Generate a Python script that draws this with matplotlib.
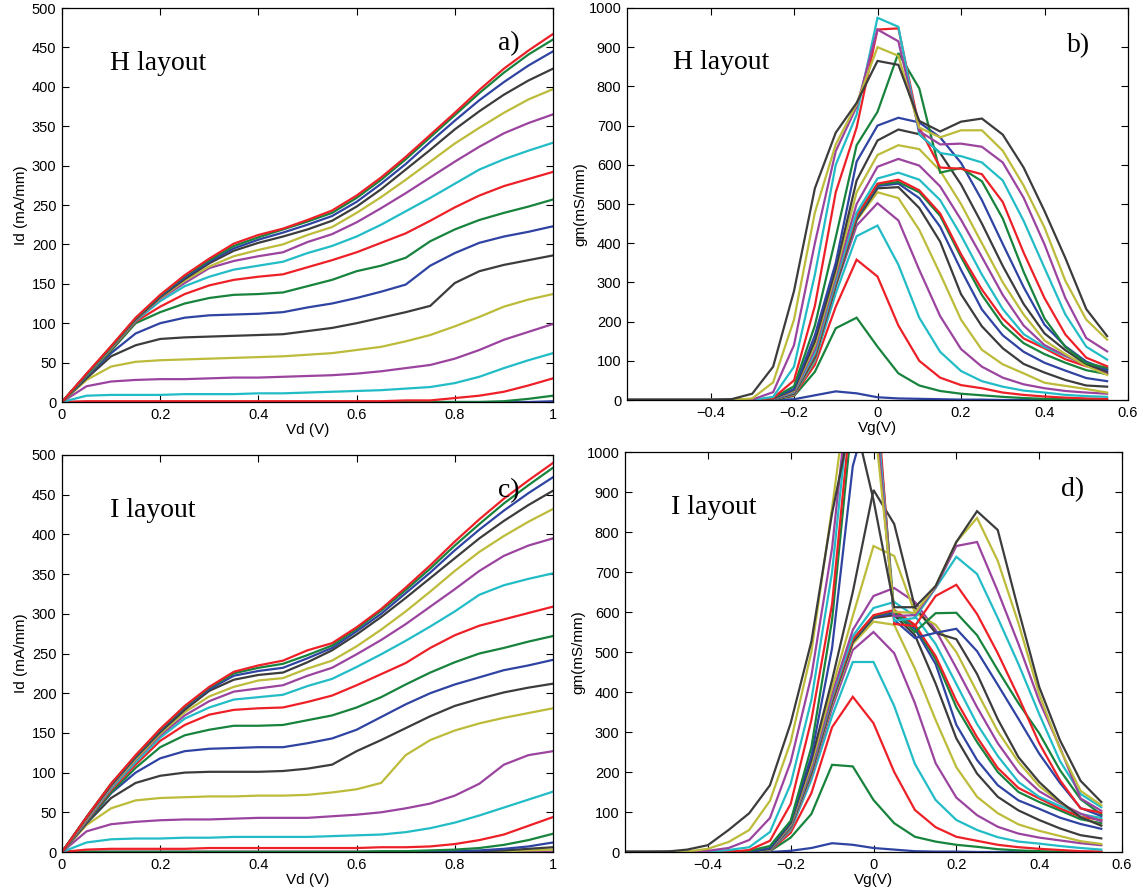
import numpy as np
import matplotlib
matplotlib.use("Agg")
import matplotlib.pyplot as plt

# Sweep axes
vd = np.round(np.arange(0.0, 1.0001, 0.05), 2)      # drain voltage (V), 21 points
vg = np.round(np.arange(-0.6, 0.5501, 0.05), 2)     # gate voltage (V), 24 points

# MATLAB-like colour cycle
line_colors = ["#2F43A2", "#17833C", "#EE2027", "#22BCC6", "#9B449F", "#BDBB3A", "#3C3C3C"]

# a) H layout, Id (mA/mm) vs Vd, one row per gate step
id_h = [
    [0, 0, 0, 0, 0, 0, 0, 0, 0, 0, 0, 0, 0, 0, 0, 0, 0, 0, 0, 0, 1],
    [0, 0, 0, 0, 0, 0, 0, 0, 0, 0, 0, 0, 0, 0, 0, 0, 0, 0, 1, 4, 8],
    [0, 1, 1, 1, 1, 1, 1, 1, 1, 1, 1, 1, 1, 1, 2, 2, 5, 8, 13, 21, 30],
    [0, 8, 9, 9, 9, 10, 10, 10, 11, 11, 12, 13, 14, 15, 17, 19, 24, 32, 43, 53, 62],
    [0, 20, 26, 28, 29, 29, 30, 31, 31, 32, 33, 34, 36, 39, 43, 47, 55, 66, 79, 89, 99],
    [0, 28, 45, 51, 53, 54, 55, 56, 57, 58, 60, 62, 66, 70, 77, 85, 96, 108, 121, 130, 137],
    [0, 30, 58, 72, 80, 82, 83, 84, 85, 86, 90, 94, 100, 107, 114, 122, 151, 166, 174, 180, 186],
    [0, 32, 62, 87, 100, 107, 110, 111, 112, 114, 120, 125, 132, 140, 149, 173, 189, 202, 210, 216, 223],
    [0, 33, 65, 100, 114, 125, 132, 136, 137, 139, 147, 155, 166, 173, 183, 204, 219, 231, 240, 248, 257],
    [0, 34, 67, 102, 121, 137, 148, 155, 159, 162, 171, 180, 190, 202, 214, 230, 247, 262, 274, 283, 292],
    [0, 34, 68, 103, 128, 147, 159, 168, 173, 178, 189, 198, 210, 225, 242, 259, 277, 295, 308, 319, 329],
    [0, 35, 69, 104, 131, 151, 170, 179, 185, 190, 203, 213, 228, 246, 265, 285, 305, 324, 341, 354, 365],
    [0, 35, 69, 105, 132, 154, 172, 185, 193, 200, 212, 222, 240, 260, 282, 305, 328, 348, 367, 384, 397],
    [0, 35, 70, 105, 133, 156, 176, 192, 202, 210, 219, 230, 248, 270, 295, 320, 346, 369, 390, 408, 423],
    [0, 35, 70, 106, 134, 158, 178, 195, 206, 215, 225, 236, 254, 277, 302, 330, 357, 383, 406, 427, 445],
    [0, 35, 70, 106, 135, 160, 180, 198, 209, 219, 229, 240, 259, 282, 308, 336, 364, 392, 418, 441, 460],
    [0, 36, 71, 107, 136, 161, 182, 201, 212, 220, 231, 243, 262, 285, 311, 339, 367, 396, 423, 446, 467],
]

# c) I layout, Id (mA/mm) vs Vd
id_i = [
    [0] * 21,
    [0] * 21,
    [0] * 21,
    [0] * 21,
    [0] * 21,
    [0, 0, 0, 0, 0, 0, 0, 0, 0, 0, 0, 0, 0, 0, 0, 0, 0, 0, 1, 2, 3],
    [0, 0, 0, 0, 0, 0, 0, 0, 0, 0, 0, 0, 0, 0, 0, 0, 0, 1, 2, 4, 6],
    [0, 0, 0, 0, 0, 0, 0, 0, 0, 0, 0, 0, 0, 0, 0, 0, 1, 2, 4, 7, 12],
    [0, 0, 0, 0, 0, 0, 0, 0, 0, 0, 0, 0, 0, 1, 1, 2, 3, 5, 9, 15, 23],
    [0, 3, 4, 4, 4, 4, 5, 5, 5, 5, 5, 5, 5, 6, 6, 7, 10, 15, 22, 33, 44],
    [0, 12, 16, 17, 17, 18, 18, 19, 19, 19, 19, 20, 21, 22, 25, 30, 37, 46, 56, 66, 76],
    [0, 26, 35, 38, 40, 41, 41, 42, 43, 43, 43, 45, 47, 50, 55, 61, 71, 86, 110, 122, 127],
    [0, 34, 55, 65, 68, 69, 70, 70, 71, 71, 72, 75, 79, 87, 122, 141, 153, 162, 169, 175, 181],
    [0, 36, 68, 87, 96, 100, 101, 101, 101, 102, 105, 110, 127, 141, 156, 171, 184, 193, 201, 207, 212],
    [0, 37, 74, 100, 118, 127, 130, 131, 132, 132, 137, 143, 154, 170, 186, 200, 211, 220, 229, 235, 242],
    [0, 38, 75, 106, 132, 147, 154, 159, 159, 160, 166, 172, 182, 195, 211, 226, 239, 250, 257, 265, 272],
    [0, 39, 78, 110, 140, 160, 173, 179, 181, 182, 189, 197, 210, 224, 238, 257, 273, 285, 293, 301, 309],
    [0, 40, 80, 113, 144, 168, 182, 192, 195, 198, 209, 218, 233, 249, 266, 284, 303, 324, 336, 344, 351],
    [0, 41, 82, 116, 147, 172, 190, 202, 206, 210, 222, 232, 249, 267, 287, 309, 331, 354, 373, 386, 395],
    [0, 42, 83, 117, 149, 176, 196, 208, 216, 219, 231, 241, 259, 280, 303, 328, 354, 378, 398, 416, 432],
    [0, 43, 84, 119, 151, 179, 203, 217, 223, 226, 239, 254, 274, 296, 320, 345, 370, 395, 417, 437, 455],
    [0, 44, 85, 120, 153, 182, 205, 222, 228, 232, 244, 257, 278, 300, 326, 352, 380, 406, 430, 452, 472],
    [0, 44, 86, 121, 154, 183, 207, 225, 232, 237, 248, 260, 281, 304, 330, 357, 386, 413, 439, 462, 484],
    [0, 44, 86, 122, 155, 184, 208, 227, 235, 241, 254, 263, 283, 306, 333, 361, 391, 419, 445, 468, 490],
]

# b) H layout, gm (mS/mm) vs Vg, one row per drain step
gm_h = [
    [0, 0, 0, 0, 0, 0, 0, 0, 2, 12, 22, 17, 7, 4, 3, 2, 1, 1, 0, 0, 0, 0, 0, 0],
    [0, 0, 0, 0, 0, 0, 0, 1, 10, 72, 183, 210, 136, 68, 37, 23, 16, 12, 8, 5, 3, 2, 1, 0],
    [0, 0, 0, 0, 0, 0, 0, 2, 12, 90, 238, 358, 315, 190, 100, 57, 38, 30, 19, 13, 9, 6, 4, 3],
    [0, 0, 0, 0, 0, 0, 0, 2, 14, 100, 272, 418, 445, 345, 210, 123, 74, 48, 34, 24, 19, 13, 10, 8],
    [0, 0, 0, 0, 0, 0, 0, 2, 15, 105, 290, 445, 502, 458, 332, 214, 130, 85, 57, 40, 30, 23, 19, 16],
    [0, 0, 0, 0, 0, 0, 0, 2, 15, 105, 292, 458, 530, 515, 434, 322, 205, 128, 91, 68, 44, 36, 28, 19],
    [0, 0, 0, 0, 0, 0, 0, 2, 16, 108, 293, 460, 540, 543, 490, 404, 270, 188, 132, 92, 70, 51, 37, 34],
    [0, 0, 0, 0, 0, 0, 0, 2, 17, 110, 295, 463, 546, 552, 515, 442, 332, 231, 165, 123, 95, 75, 56, 48],
    [0, 0, 0, 0, 0, 0, 0, 3, 18, 112, 297, 466, 550, 556, 530, 470, 365, 268, 192, 145, 117, 95, 76, 66],
    [0, 0, 0, 0, 0, 0, 0, 3, 19, 115, 300, 470, 552, 562, 535, 476, 372, 282, 208, 157, 132, 104, 86, 80],
    [0, 0, 0, 0, 0, 0, 0, 3, 20, 120, 305, 478, 565, 580, 562, 510, 420, 320, 232, 168, 135, 112, 92, 76],
    [0, 0, 0, 0, 0, 0, 0, 3, 22, 130, 315, 500, 595, 615, 598, 545, 460, 365, 268, 190, 140, 113, 88, 68],
    [0, 0, 0, 0, 0, 0, 0, 4, 24, 140, 325, 530, 625, 650, 640, 585, 500, 400, 300, 218, 152, 117, 87, 64],
    [0, 0, 0, 0, 0, 0, 0, 4, 26, 150, 335, 560, 662, 690, 678, 630, 550, 450, 342, 245, 170, 127, 92, 72],
    [0, 0, 0, 0, 0, 0, 0, 5, 28, 165, 350, 608, 700, 720, 708, 670, 605, 510, 398, 288, 192, 137, 98, 77],
    [0, 0, 0, 0, 0, 0, 0, 5, 35, 190, 415, 650, 735, 885, 795, 580, 592, 558, 463, 327, 208, 135, 94, 82],
    [0, 0, 0, 0, 0, 0, 0, 5, 50, 240, 530, 695, 945, 948, 695, 593, 590, 576, 505, 376, 260, 167, 108, 86],
    [0, 0, 0, 0, 0, 0, 0, 8, 85, 320, 600, 728, 975, 952, 678, 630, 622, 606, 560, 457, 337, 218, 136, 103],
    [0, 0, 0, 0, 0, 0, 1, 20, 140, 400, 635, 748, 945, 915, 686, 652, 654, 646, 606, 516, 397, 260, 158, 124],
    [0, 0, 0, 0, 0, 0, 4, 45, 205, 478, 652, 755, 900, 878, 695, 670, 688, 688, 636, 547, 440, 304, 205, 154],
    [0, 0, 0, 0, 0, 2, 16, 85, 278, 540, 682, 758, 865, 855, 712, 685, 710, 718, 677, 593, 482, 362, 232, 163],
]

# d) I layout, gm (mS/mm) vs Vg
gm_i = [
    [0, 0, 0, 0, 0, 0, 0, 0, 3, 10, 22, 18, 10, 6, 2, 1, 1, 0, 0, 0, 0, 0, 0, 0],
    [0, 0, 0, 0, 0, 0, 0, 2, 36, 95, 218, 214, 130, 72, 38, 26, 18, 13, 7, 4, 2, 1, 0, 0],
    [0, 0, 0, 0, 0, 0, 0, 3, 48, 147, 312, 388, 322, 200, 105, 62, 38, 28, 18, 12, 8, 5, 2, 1],
    [0, 0, 0, 0, 0, 0, 0, 4, 55, 180, 340, 475, 475, 365, 220, 130, 80, 55, 37, 26, 21, 15, 10, 6],
    [0, 0, 0, 0, 0, 0, 0, 4, 58, 190, 360, 505, 550, 497, 372, 222, 136, 92, 63, 46, 36, 29, 22, 17],
    [0, 0, 0, 0, 0, 0, 0, 5, 60, 195, 370, 520, 576, 568, 458, 330, 212, 138, 97, 69, 53, 40, 27, 20],
    [0, 0, 0, 0, 0, 0, 0, 5, 62, 198, 375, 525, 585, 592, 542, 421, 284, 196, 138, 104, 80, 59, 42, 34],
    [0, 0, 0, 0, 0, 0, 0, 5, 63, 200, 378, 528, 588, 597, 558, 470, 318, 230, 167, 129, 108, 86, 70, 58],
    [0, 0, 0, 0, 0, 0, 0, 6, 64, 202, 380, 530, 590, 603, 565, 482, 362, 275, 200, 150, 125, 104, 82, 72],
    [0, 0, 0, 0, 0, 0, 0, 6, 65, 205, 383, 532, 592, 605, 568, 490, 378, 287, 210, 160, 134, 109, 88, 80],
    [0, 0, 0, 0, 0, 0, 0, 6, 66, 208, 388, 540, 610, 625, 590, 520, 420, 320, 240, 175, 138, 115, 95, 85],
    [0, 0, 0, 0, 0, 0, 0, 7, 68, 212, 395, 555, 640, 660, 625, 555, 460, 362, 272, 200, 152, 122, 96, 77],
    [0, 0, 0, 0, 0, 0, 0, 7, 70, 220, 410, 590, 765, 740, 598, 568, 500, 400, 302, 225, 165, 125, 88, 66],
    [0, 0, 0, 0, 0, 0, 0, 8, 72, 230, 430, 650, 905, 820, 612, 548, 532, 445, 332, 237, 175, 127, 87, 66],
    [0, 0, 0, 0, 0, 0, 0, 10, 75, 240, 510, 965, 1150, 580, 535, 548, 558, 502, 418, 333, 246, 173, 110, 90],
    [0, 0, 0, 0, 0, 0, 3, 15, 78, 262, 580, 1100, 1200, 600, 550, 597, 598, 542, 455, 372, 297, 205, 132, 94],
    [0, 0, 0, 0, 0, 0, 5, 28, 120, 330, 620, 1150, 1250, 570, 565, 640, 668, 595, 497, 388, 272, 180, 109, 98],
    [0, 0, 0, 0, 0, 5, 12, 50, 170, 380, 700, 1200, 1200, 578, 585, 660, 738, 695, 585, 470, 345, 228, 145, 112],
    [0, 0, 0, 0, 3, 10, 30, 85, 225, 440, 760, 1250, 1150, 590, 592, 662, 765, 775, 652, 520, 378, 262, 134, 103],
    [0, 0, 0, 1, 8, 25, 55, 128, 275, 500, 860, 1250, 1100, 600, 598, 665, 775, 835, 728, 572, 395, 258, 153, 117],
    [0, 0, 1, 6, 17, 55, 97, 167, 322, 526, 847, 1100, 880, 612, 612, 665, 775, 852, 805, 605, 413, 280, 178, 125],
]

plt.rcParams["font.family"] = ["Liberation Sans", "DejaVu Sans"]
plt.rcParams["axes.linewidth"] = 0.9

W, H = 1142, 890
fig = plt.figure(figsize=(W / 100, H / 100), dpi=100)


def frac(left, top, right, bottom):
    return [left / W, 1 - bottom / H, (right - left) / W, (bottom - top) / H]


def style(ax):
    ax.tick_params(direction="in", length=5, width=0.8, top=True, right=True,
                   labelsize=10.5, pad=4)
    for s in ax.spines.values():
        s.set_color("black")


def id_panel(rect, curves, layout, tag):
    ax = fig.add_axes(rect)
    for k, row in enumerate(curves):
        ax.plot(vd, row, color=line_colors[k % 7], lw=1.6, solid_joinstyle="miter")
    ax.set_xlim(0, 1)
    ax.set_ylim(0, 500)
    ax.set_xticks([0, 0.2, 0.4, 0.6, 0.8, 1.0])
    ax.set_xticklabels(["0", "0.2", "0.4", "0.6", "0.8", "1"])
    ax.set_yticks(np.arange(0, 501, 50))
    ax.set_xlabel("Vd (V)", fontsize=11, labelpad=1)
    ax.set_ylabel("Id (mA/mm)", fontsize=11, labelpad=3)
    style(ax)
    ax.text(0.098, 0.86, layout, transform=ax.transAxes, fontsize=20,
            family="Liberation Serif", va="center", ha="left")
    ax.text(0.888, 0.91, tag, transform=ax.transAxes, fontsize=20,
            family="Liberation Serif", va="center", ha="left")
    return ax


def gm_panel(rect, curves, layout, tag):
    ax = fig.add_axes(rect)
    for k, row in enumerate(curves):
        ax.plot(vg, row, color=line_colors[k % 7], lw=1.6, solid_joinstyle="miter")
    ax.set_xlim(-0.6, 0.6)
    ax.set_ylim(0, 1000)
    ax.set_xticks([-0.4, -0.2, 0, 0.2, 0.4, 0.6])
    ax.set_xticklabels(["\u22120.4", "\u22120.2", "0", "0.2", "0.4", "0.6"])
    ax.set_yticks(np.arange(0, 1001, 100))
    ax.set_xlabel("Vg(V)", fontsize=11, labelpad=1)
    ax.set_ylabel("gm(mS/mm)", fontsize=11, labelpad=1)
    style(ax)
    ax.text(0.092, 0.86, layout, transform=ax.transAxes, fontsize=20,
            family="Liberation Serif", va="center", ha="left")
    ax.text(0.878, 0.905, tag, transform=ax.transAxes, fontsize=20,
            family="Liberation Serif", va="center", ha="left")
    return ax


id_panel(frac(62, 8, 553, 402), id_h, "H layout", "a)")
gm_panel(frac(627, 8, 1128, 400), gm_h, "H layout", "b)")
id_panel(frac(62, 455, 553, 852), id_i, "I layout", "c)")
gm_panel(frac(625, 452, 1122, 852), gm_i, "I layout", "d)")

fig.savefig("out.png", dpi=100)
